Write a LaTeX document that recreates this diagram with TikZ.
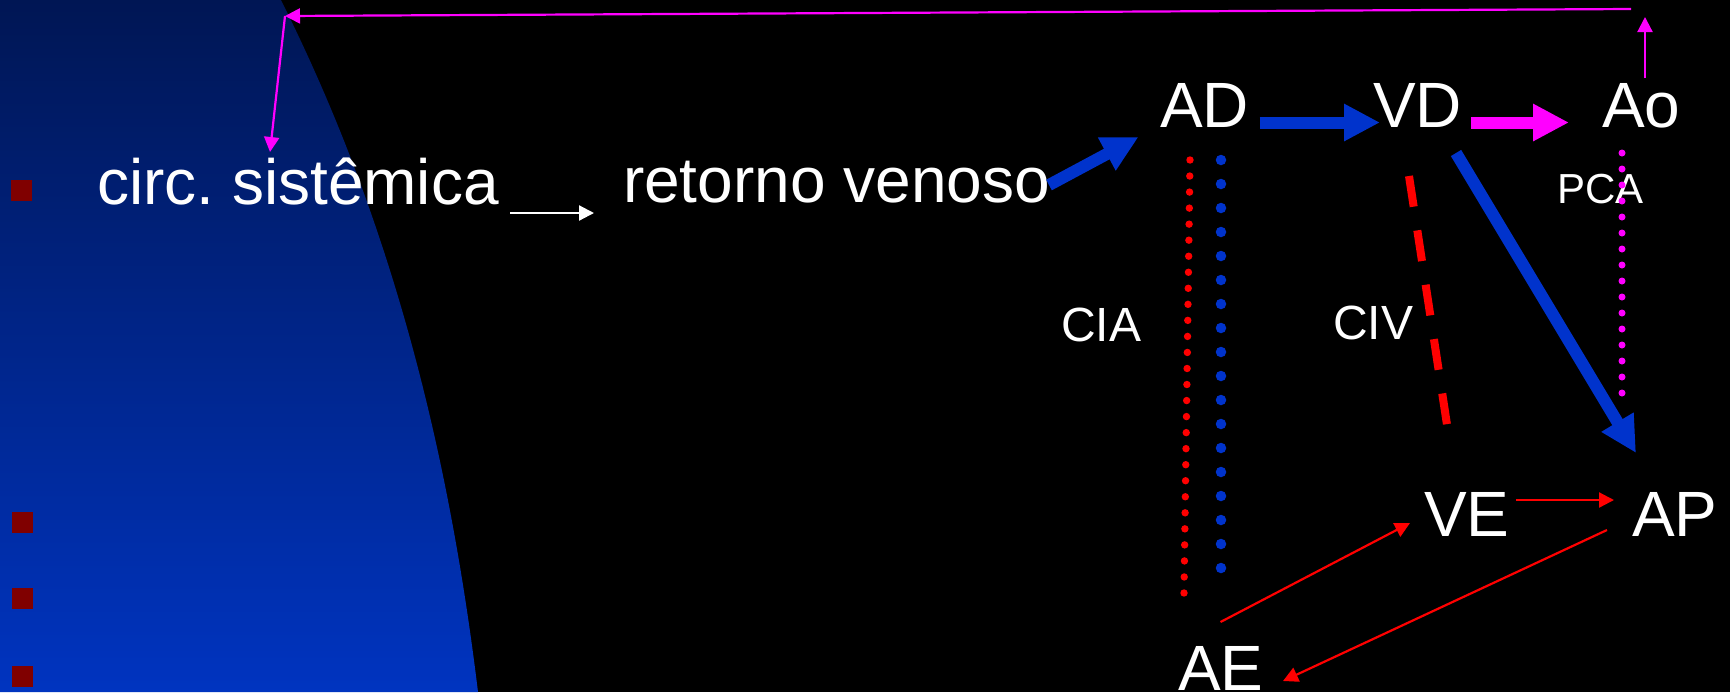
\documentclass[tikz,border=0pt]{standalone}
\usepackage{fontspec}
\setmainfont{Liberation Sans}
\usetikzlibrary{arrows.meta}
\definecolor{hblue}{RGB}{0,51,204}
\definecolor{hred}{RGB}{255,0,0}
\definecolor{hmag}{RGB}{255,0,255}
\definecolor{bul}{RGB}{128,0,0}
\definecolor{bgtop}{RGB}{0,22,84}
\definecolor{bgmid}{RGB}{0,40,160}
\definecolor{bgbot}{RGB}{0,52,192}
\frenchspacing
\begin{document}
\begin{tikzpicture}[x=0.5pt,y=-0.5pt,
  big/.style={text=white,inner sep=0pt,outer sep=0pt,anchor=base west,font=\fontsize{32}{38}\selectfont},
  small/.style={text=white,inner sep=0pt,outer sep=0pt,anchor=base west,font=\fontsize{24}{29}\selectfont},
  pcatext/.style={text=white,inner sep=0pt,outer sep=0pt,anchor=base west,font=\fontsize{21}{25}\selectfont},
  bulletbox/.style={fill=bul,inner sep=0pt,outer sep=0pt,minimum size=10.5pt,anchor=north west},
  fatarrow/.style={line width=6pt,-{Triangle[length=18pt,width=17.5pt]}},
  thinarrow/.style={line width=1.1pt,-{Triangle[length=7.5pt,width=7.5pt]}},
  reddots/.style={hred,line width=3.7pt,line cap=round,dash pattern=on 0pt off 8.019pt},
  bluedots/.style={hblue,line width=5.25pt,line cap=round,dash pattern=on 0pt off 12pt},
  magdots/.style={hmag,line width=3.5pt,line cap=round,dash pattern=on 0pt off 8pt},
  reddash/.style={hred,line width=4pt,dash pattern=on 15.5pt off 12pt},
]
\useasboundingbox (0,0) rectangle (1730,692);
\fill[black] (0,0) rectangle (1730,692);
\shade[top color=bgtop, middle color=bgmid, bottom color=bgbot]
  (0,0) -- (281,0) .. controls (396,230) and (450,462) .. (478,692) -- (0,692) -- cycle;

% bullets
\node[bulletbox] (b1) at (11,180) {};
\node[bulletbox] (b2) at (12,512) {};
\node[bulletbox] (b3) at (12,588) {};
\node[bulletbox] (b4) at (12,666) {};

% texts
\node[big] (circ) at (97,204) {circ. sistêmica};
\node[big] (ret) at (623,202) {retorno venoso};
\node[big] (AD) at (1160,127) {AD};
\node[big] (VD) at (1373,127) {VD};
\node[big] (Ao) at (1602,127) {Ao};
\node[big] (VE) at (1424,536) {VE};
\node[big] (AP) at (1632,536) {AP};
\node[big] (AE) at (1178,690) {AE};
\node[small] (CIA) at (1061,341) {CIA};
\node[small] (CIV) at (1333,339) {CIV};
\node[pcatext] (PCA) at (1557,203) {PCA};

% connector end points
\coordinate (retEnd) at (1049,185);
\coordinate (ADin) at (1138.5,137);
\coordinate (ADout) at (1259.5,122.5);
\coordinate (VDin) at (1380,122.5);
\coordinate (VDout) at (1471,122.5);
\coordinate (Aoin) at (1569,122.5);
\coordinate (VDdiag) at (1456,153);
\coordinate (APtop) at (1636,453);
\coordinate (VEout) at (1516,500);
\coordinate (APin) at (1614,500);
\coordinate (AEup) at (1220.5,622);
\coordinate (VEin) at (1410,523);
\coordinate (APout) at (1607,530);
\coordinate (AEin) at (1283,681);
\coordinate (Aoup) at (1645,78);
\coordinate (Aotip) at (1645,17);
\coordinate (lineR) at (1631,9);
\coordinate (corner) at (285,16);
\coordinate (circTop) at (270,152);
\coordinate (circEnd) at (510,213);
\coordinate (retIn) at (594,213);
\coordinate (ciaTop) at (1190,160);
\coordinate (ciaBot) at (1184,593);
\coordinate (cibTop) at (1221,160);
\coordinate (cibBot) at (1221,568);
\coordinate (pcaTop) at (1622,153);
\coordinate (pcaBot) at (1622,393);
\coordinate (civTop) at (1409,176);
\coordinate (civBot) at (1447.5,428);

% dotted / dashed lines
\draw[reddots] (ciaTop) -- (ciaBot);
\draw[bluedots] (cibTop) -- (cibBot);
\draw[magdots] (pcaTop) -- (pcaBot);
\draw[reddash] (civTop) -- (civBot);

% fat arrows
\draw[fatarrow,hblue] (retEnd) -- (ADin);
\draw[fatarrow,hblue] (ADout) -- (VDin);
\draw[fatarrow,hmag] (VDout) -- (Aoin);
\draw[fatarrow,hblue] (VDdiag) -- (APtop);

% thin arrows
\draw[thinarrow,white] (circEnd) -- (retIn);
\draw[thinarrow,hred] (VEout) -- (APin);
\draw[thinarrow,hred] (AEup) -- (VEin);
\draw[thinarrow,hred] (APout) -- (AEin);
\draw[thinarrow,hmag] (Aoup) -- (Aotip);
\draw[thinarrow,hmag] (lineR) -- (corner);
\draw[thinarrow,hmag] (corner) -- (circTop);
\end{tikzpicture}
\end{document}
